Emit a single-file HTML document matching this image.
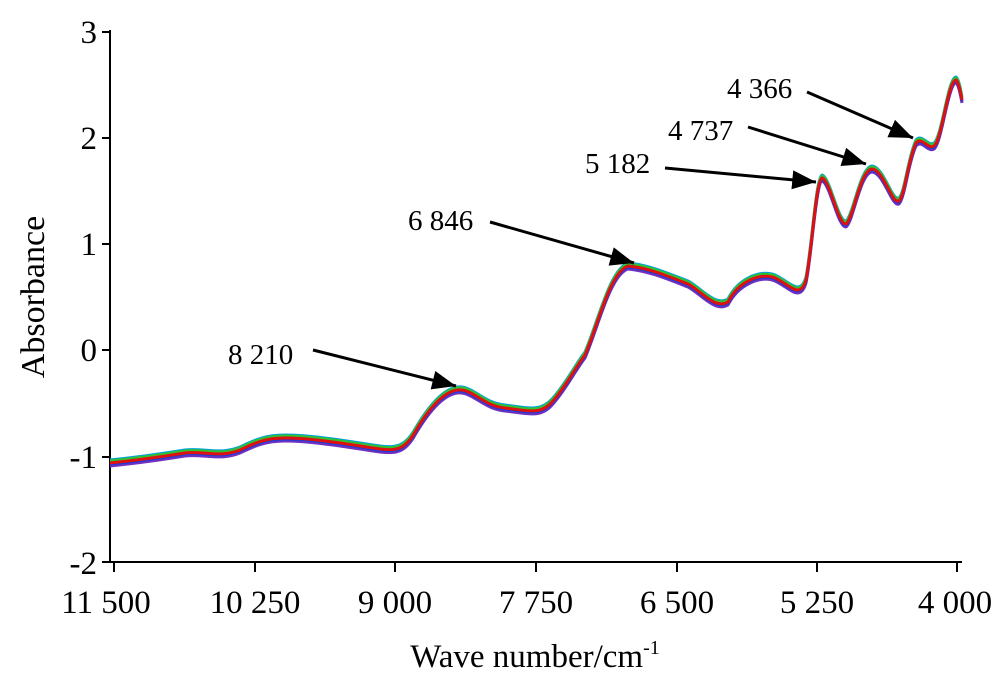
<!DOCTYPE html>
<html><head><style>body{margin:0;background:#fff}</style></head><body>
<svg width="1000" height="681" viewBox="0 0 1000 681" xmlns="http://www.w3.org/2000/svg" font-family="Liberation Serif, serif">
<defs>
<marker id="a" viewBox="0 0 10 8" refX="10" refY="4" markerWidth="24" markerHeight="19" orient="auto" markerUnits="userSpaceOnUse"><path d="M0,0L10,4L0,8z" fill="#000"/></marker></defs>
<g stroke="#000" stroke-width="2" fill="none">
<line x1="110" y1="30" x2="110" y2="563"/>
<line x1="107" y1="562" x2="962" y2="562"/>
<line x1="102" y1="32" x2="110" y2="32"/><line x1="102" y1="138" x2="110" y2="138"/><line x1="102" y1="244" x2="110" y2="244"/><line x1="102" y1="350" x2="110" y2="350"/><line x1="102" y1="457" x2="110" y2="457"/><line x1="102" y1="562" x2="110" y2="562"/>
<line x1="114" y1="562" x2="114" y2="572"/><line x1="255" y1="562" x2="255" y2="572"/><line x1="395" y1="562" x2="395" y2="572"/><line x1="536" y1="562" x2="536" y2="572"/><line x1="677" y1="562" x2="677" y2="572"/><line x1="817" y1="562" x2="817" y2="572"/><line x1="957" y1="562" x2="957" y2="572"/>
</g>
<g font-size="33" text-anchor="end">
<text x="97" y="43">3</text><text x="97" y="149">2</text><text x="97" y="255">1</text><text x="97" y="361">0</text><text x="97" y="468">-1</text><text x="97" y="574">-2</text>
</g>
<g font-size="33" text-anchor="middle">
<text x="106" y="613">11 500</text><text x="255" y="613">10 250</text><text x="395" y="613">9 000</text><text x="536" y="613">7 750</text><text x="677" y="613">6 500</text><text x="817" y="613">5 250</text><text x="955" y="613">4 000</text>
</g>
<text x="535" y="667" font-size="33" text-anchor="middle">Wave number/cm<tspan font-size="20" dy="-13">-1</tspan></text>
<text transform="translate(44,297) rotate(-90)" font-size="34" text-anchor="middle">Absorbance</text>
<g fill="none" stroke-width="3" stroke-linejoin="round">
<g id="c">
<path d="M110,463 C140,460 160,457 185,453 C205,451 220,458 240,450 C255,443 265,438 285,438 C310,438 340,443 380,449 C395,451 405,450 415,432 C428,410 445,388 462,390 C475,392 485,406 505,408 C525,410 540,416 552,402 C565,388 575,368 585,355 C598,325 610,272 628,266 C648,268 665,275 688,284 C700,290 715,310 728,302 C738,282 760,272 775,278 C790,285 800,300 806,280 C812,250 816,180 822,178 C830,180 838,225 846,224 C853,220 860,170 872,169 C884,170 892,205 899,201 C905,195 908,160 916,143 C922,136 928,150 934,146 C942,140 948,80 956,80 C959,82 961,95 962,100"/>
</g>
<use href="#c" stroke="#00a0e0" transform="translate(0,-3)"/>
<use href="#c" stroke="#30c030" transform="translate(0,-2)"/>
<use href="#c" stroke="#e0a000" transform="translate(0,2)"/>
<use href="#c" stroke="#7030c0" transform="translate(0,3)"/>
<use href="#c" stroke="#1040e0" transform="translate(0,1)"/>
<use href="#c" stroke="#e01010"/>
</g>
<g font-size="29">
<text x="228" y="364">8 210</text><text x="408" y="230">6 846</text><text x="585" y="173">5 182</text><text x="668" y="140">4 737</text><text x="727" y="98">4 366</text>
</g>
<g stroke="#000" stroke-width="3" marker-end="url(#a)">
<line x1="313" y1="350" x2="456" y2="386"/>
<line x1="490" y1="222" x2="634" y2="263"/>
<line x1="665" y1="168" x2="816" y2="182"/>
<line x1="748" y1="127" x2="866" y2="164"/>
<line x1="807" y1="92" x2="913" y2="138"/>
</g>
</svg>
</body></html>
